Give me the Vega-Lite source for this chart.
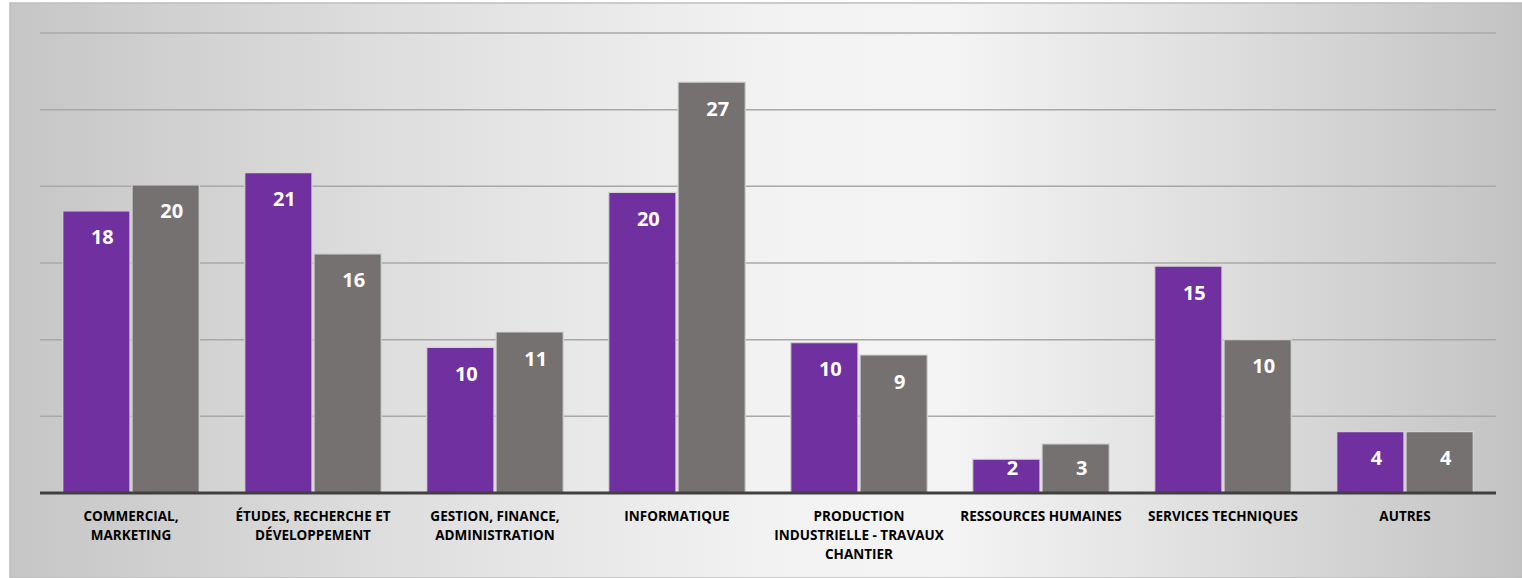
{
  "$schema": "https://vega.github.io/schema/vega-lite/v6.json",
  "width": 1512,
  "height": 575,
  "autosize": {"type": "none"},
  "padding": {"left": 10, "top": 3, "right": 0, "bottom": 0},
  "background": "#ffffff",
  "config": {
    "font": "Open Sans",
    "view": {
      "fill": {
        "gradient": "linear",
        "x1": 0, "y1": 0, "x2": 1, "y2": 0,
        "stops": [
          {"offset": 0, "color": "#c6c6c6"},
          {"offset": 0.25, "color": "#dedede"},
          {"offset": 0.5, "color": "#f2f2f2"},
          {"offset": 0.62, "color": "#f4f4f4"},
          {"offset": 0.8, "color": "#dedede"},
          {"offset": 1, "color": "#c3c3c3"}
        ]
      },
      "stroke": "#bdbdbd",
      "strokeWidth": 1.5
    }
  },
  "datasets": {
    "main": [
      {"cat": "COMMERCIAL, MARKETING", "serie": "Série 1", "v": 18.4},
      {"cat": "COMMERCIAL, MARKETING", "serie": "Série 2", "v": 20.1},
      {"cat": "ÉTUDES, RECHERCHE ET DÉVELOPPEMENT", "serie": "Série 1", "v": 20.9},
      {"cat": "ÉTUDES, RECHERCHE ET DÉVELOPPEMENT", "serie": "Série 2", "v": 15.6},
      {"cat": "GESTION, FINANCE, ADMINISTRATION", "serie": "Série 1", "v": 9.5},
      {"cat": "GESTION, FINANCE, ADMINISTRATION", "serie": "Série 2", "v": 10.5},
      {"cat": "INFORMATIQUE", "serie": "Série 1", "v": 19.6},
      {"cat": "INFORMATIQUE", "serie": "Série 2", "v": 26.8},
      {"cat": "PRODUCTION INDUSTRIELLE - TRAVAUX CHANTIER", "serie": "Série 1", "v": 9.8},
      {"cat": "PRODUCTION INDUSTRIELLE - TRAVAUX CHANTIER", "serie": "Série 2", "v": 9.0},
      {"cat": "RESSOURCES HUMAINES", "serie": "Série 1", "v": 2.2},
      {"cat": "RESSOURCES HUMAINES", "serie": "Série 2", "v": 3.2},
      {"cat": "SERVICES TECHNIQUES", "serie": "Série 1", "v": 14.8},
      {"cat": "SERVICES TECHNIQUES", "serie": "Série 2", "v": 10.0},
      {"cat": "AUTRES", "serie": "Série 1", "v": 4.0},
      {"cat": "AUTRES", "serie": "Série 2", "v": 4.0}
    ],
    "grid": [{"g": 5}, {"g": 10}, {"g": 15}, {"g": 20}, {"g": 25}, {"g": 30}],
    "base": [{"g": 0}]
  },
  "layer": [
    {
      "data": {"name": "grid"},
      "mark": {"type": "rule", "color": "#a8a8a8", "strokeWidth": 1.5},
      "encoding": {
        "y": {"field": "g", "type": "quantitative", "scale": {"domain": [-5.5435, 31.9565], "nice": false, "zero": false}, "axis": null},
        "x": {
          "datum": "COMMERCIAL, MARKETING", "type": "nominal", "bandPosition": -0.16667,
          "scale": {"domain": ["COMMERCIAL, MARKETING", "ÉTUDES, RECHERCHE ET DÉVELOPPEMENT", "GESTION, FINANCE, ADMINISTRATION", "INFORMATIQUE", "PRODUCTION INDUSTRIELLE - TRAVAUX CHANTIER", "RESSOURCES HUMAINES", "SERVICES TECHNIQUES", "AUTRES"], "paddingInner": 0.25, "paddingOuter": 0.27885, "align": 0.5197}
        },
        "x2": {"datum": "AUTRES", "bandPosition": 1.16667}
      }
    },
    {
      "data": {"name": "main"},
      "mark": {"type": "bar", "stroke": "#d4d4d4", "strokeWidth": 1.2},
      "encoding": {
        "x": {
          "field": "cat", "type": "nominal", "sort": null,
          "scale": {"domain": ["COMMERCIAL, MARKETING", "ÉTUDES, RECHERCHE ET DÉVELOPPEMENT", "GESTION, FINANCE, ADMINISTRATION", "INFORMATIQUE", "PRODUCTION INDUSTRIELLE - TRAVAUX CHANTIER", "RESSOURCES HUMAINES", "SERVICES TECHNIQUES", "AUTRES"], "paddingInner": 0.25, "paddingOuter": 0.27885, "align": 0.5197},
          "axis": {
            "orient": "bottom", "offset": -85, "title": null, "domain": false, "ticks": false, "grid": false,
            "bandPosition": 0.5,
            "labelAngle": 0, "labelAlign": "center", "labelBaseline": "top",
            "labelFont": "Open Sans", "labelFontWeight": "bold", "labelFontSize": 13.5,
            "labelColor": "#000000", "labelPadding": 16, "labelLineHeight": 19, "labelLimit": 0,
            "labelOverlap": false, "labelFlush": false,
            "labelExpr": "datum.value == 'COMMERCIAL, MARKETING' ? ['COMMERCIAL,', 'MARKETING'] : datum.value == 'ÉTUDES, RECHERCHE ET DÉVELOPPEMENT' ? ['ÉTUDES, RECHERCHE ET', 'DÉVELOPPEMENT'] : datum.value == 'GESTION, FINANCE, ADMINISTRATION' ? ['GESTION, FINANCE,', 'ADMINISTRATION'] : datum.value == 'PRODUCTION INDUSTRIELLE - TRAVAUX CHANTIER' ? ['PRODUCTION', 'INDUSTRIELLE - TRAVAUX', 'CHANTIER'] : datum.value"
          }
        },
        "xOffset": {"field": "serie", "type": "nominal", "scale": {"paddingInner": 0.03}},
        "y": {"field": "v", "type": "quantitative", "scale": {"domain": [-5.5435, 31.9565], "nice": false, "zero": false}, "axis": null},
        "y2": {"datum": 0},
        "color": {"field": "serie", "type": "nominal", "scale": {"domain": ["Série 1", "Série 2"], "range": ["#7030a0", "#767171"]}, "legend": null}
      }
    },
    {
      "data": {"name": "main"},
      "transform": [{"calculate": "max(datum.v - 1.794, 1.565)", "as": "ly"}],
      "mark": {"type": "text", "font": "Open Sans", "fontWeight": "bold", "fontSize": 20, "color": "#ffffff", "baseline": "middle", "align": "center", "dx": 6},
      "encoding": {
        "x": {"field": "cat", "type": "nominal", "sort": null},
        "xOffset": {"field": "serie", "type": "nominal"},
        "y": {"field": "ly", "type": "quantitative"},
        "text": {"field": "v", "type": "quantitative", "format": ".0f"}
      }
    },
    {
      "data": {"name": "base"},
      "mark": {"type": "rule", "color": "#404040", "strokeWidth": 3},
      "encoding": {
        "y": {"field": "g", "type": "quantitative"},
        "x": {"datum": "COMMERCIAL, MARKETING", "type": "nominal", "bandPosition": -0.16667},
        "x2": {"datum": "AUTRES", "bandPosition": 1.16667}
      }
    }
  ]
}
